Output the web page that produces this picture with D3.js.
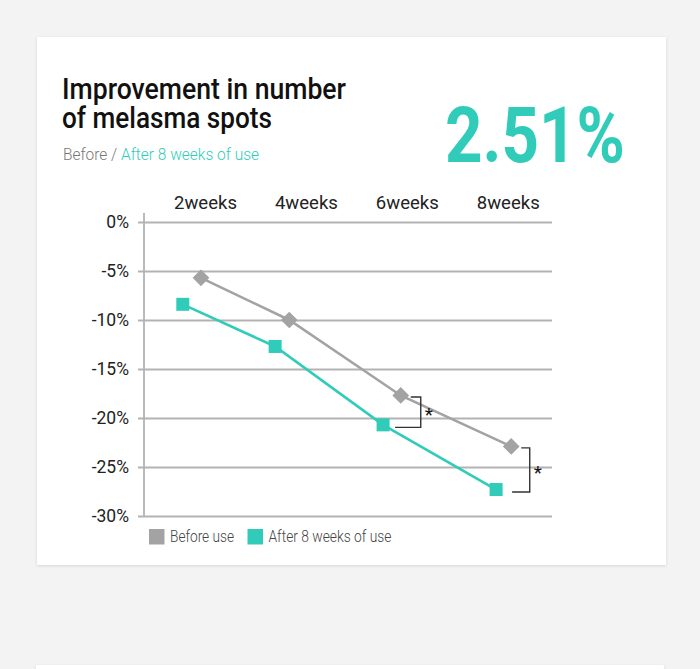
<!DOCTYPE html>
<html>
<head>
<meta charset="utf-8">
<script src="https://cdn.jsdelivr.net/npm/d3@7/dist/d3.min.js"></script>
<style>
  html, body { margin: 0; padding: 0; background: #f3f3f3; }
  svg { display: block; }
  text { font-family: Roboto, "Noto Sans", sans-serif; }
</style>
</head>
<body>
<svg id="chart" width="700" height="669"></svg>
<script>
// ---- data ----
const categories = ["2weeks", "4weeks", "6weeks", "8weeks"];
const categoryWeeks = [2, 4, 6, 8];
const beforeValues = [-5.7, -10.0, -17.7, -22.9];
const afterValues = [-8.4, -12.7, -20.7, -27.3];
// horizontal placement of the markers, in weeks (as drawn in the original)
const beforeWeeks = [1.92, 3.67, 5.88, 8.07];
const afterWeeks = [1.56, 3.39, 5.53, 7.77];
const yTicks = [0, -5, -10, -15, -20, -25, -30];
const significantIdx = [2, 3];
const seriesNames = ["Before use", "After 8 weeks of use"];
const titleLines = ["Improvement in number", "of melasma spots"];
const headline = "2.51%";

const GREY = "#a3a3a3", TEAL = "#30ccb9";

const svg = d3.select("#chart");

// background cards
const defs = svg.append("defs");
const f = defs.append("filter").attr("id", "sh").attr("x", "-5%").attr("y", "-5%").attr("width", "110%").attr("height", "110%");
f.append("feDropShadow").attr("dx", 0).attr("dy", 1).attr("stdDeviation", 1.5).attr("flood-color", "#000").attr("flood-opacity", 0.12);
svg.append("rect").attr("x", 37).attr("y", 37).attr("width", 629).attr("height", 528).attr("fill", "#fff").attr("filter", "url(#sh)");
svg.append("rect").attr("x", 36).attr("y", 665).attr("width", 628).attr("height", 40).attr("fill", "#fff").attr("filter", "url(#sh)");

function fit(sel, w) { sel.attr("textLength", w).attr("lengthAdjust", "spacingAndGlyphs"); return sel; }

// title
fit(svg.append("text").attr("x", 62).attr("y", 99).attr("font-size", 29).attr("font-weight", 500).attr("fill", "#111").text(titleLines[0]), 284);
fit(svg.append("text").attr("x", 62).attr("y", 128).attr("font-size", 29).attr("font-weight", 500).attr("fill", "#111").text(titleLines[1]), 210);
const sub = svg.append("text").attr("x", 63).attr("y", 160).attr("font-size", 16.5).attr("font-weight", 300);
fit(sub.append("tspan").attr("fill", "#777").text("Before / "), 58);
fit(sub.append("tspan").attr("fill", TEAL).text("After 8 weeks of use"), 138);

fit(svg.append("text").attr("x", 445).attr("y", 162).attr("font-size", 78).attr("font-weight", 700).attr("fill", TEAL).text(headline), 180);

// scales
const x = d3.scaleLinear().domain([2, 8]).range([205, 507.7]);
const y = d3.scaleLinear().domain([0, -30]).range([222, 516]);

// gridlines
const yAxis = d3.axisLeft(y).tickValues(yTicks).tickFormat(d => d + "%").tickSize(-(552 - 138)).tickPadding(10);
const yg = svg.append("g").attr("transform", "translate(138,0)").call(yAxis);
yg.select(".domain").remove();
yg.selectAll(".tick line").attr("stroke", "#b3b3b3").attr("stroke-width", 1.8);
yg.selectAll(".tick text").attr("font-size", 17.5).attr("fill", "#222").attr("x", -9).attr("font-family", "Roboto, sans-serif");
// vertical axis
svg.append("line").attr("x1", 144).attr("x2", 144).attr("y1", 213).attr("y2", y(-30)).attr("stroke", "#b3b3b3").attr("stroke-width", 1.8);

// x labels
const xAxis = d3.axisTop(x).tickValues(categoryWeeks).tickFormat((d, i) => categories[i]).tickSize(0).tickPadding(0);
const xg = svg.append("g").attr("transform", "translate(0,209)").call(xAxis);
xg.select(".domain").remove();
xg.selectAll(".tick text").attr("font-size", 18.5).attr("fill", "#222").attr("font-family", "Roboto, sans-serif").each(function () { d3.select(this).attr("textLength", 63).attr("lengthAdjust", "spacingAndGlyphs"); });

// lines
const before = beforeValues.map((v, i) => ({ w: beforeWeeks[i], v }));
const after = afterValues.map((v, i) => ({ w: afterWeeks[i], v }));
const line = d3.line().x(d => x(d.w)).y(d => y(d.v));
svg.append("path").datum(before).attr("d", line).attr("fill", "none").attr("stroke", GREY).attr("stroke-width", 2.6);
svg.append("path").datum(after).attr("d", line).attr("fill", "none").attr("stroke", TEAL).attr("stroke-width", 2.6);

svg.append("g").selectAll("path").data(before).join("path")
  .attr("d", d3.symbol().type(d3.symbolSquare).size(140))
  .attr("transform", d => `translate(${x(d.w)},${y(d.v)}) rotate(45)`)
  .attr("fill", GREY);
svg.append("g").selectAll("rect").data(after).join("rect")
  .attr("x", d => x(d.w) - 6.5).attr("y", d => y(d.v) - 6.5).attr("width", 13).attr("height", 13)
  .attr("fill", TEAL);

// significance brackets
significantIdx.forEach((i, k) => {
  const bx = x(beforeWeeks[i]), ax = x(afterWeeks[i]);
  const by = y(beforeValues[i]) + 1.5, ay = y(afterValues[i]) + 2.5;
  const vx = bx + 20 - k * 1.5;
  svg.append("path")
    .attr("d", `M${bx + 10},${by}H${vx}V${ay}H${ax + 12 + k * 4}`)
    .attr("fill", "none").attr("stroke", "#333").attr("stroke-width", 1.4);
  svg.append("text").attr("x", vx + 4).attr("y", (by + ay) / 2 + 9).attr("font-size", 19).attr("fill", "#111").text("*");
});

// legend
const lg = svg.append("g");
const legendX = [149, 247.5];
const textW = [64, 123];
seriesNames.forEach((n, i) => {
  lg.append("rect").attr("x", legendX[i]).attr("y", 529).attr("width", 15.5).attr("height", 15.5).attr("fill", i === 0 ? GREY : TEAL);
  fit(lg.append("text").attr("x", legendX[i] + 21).attr("y", 542).attr("font-size", 16).attr("font-weight", 300).attr("fill", "#444").text(n), textW[i]);
});
</script>
</body>
</html>
